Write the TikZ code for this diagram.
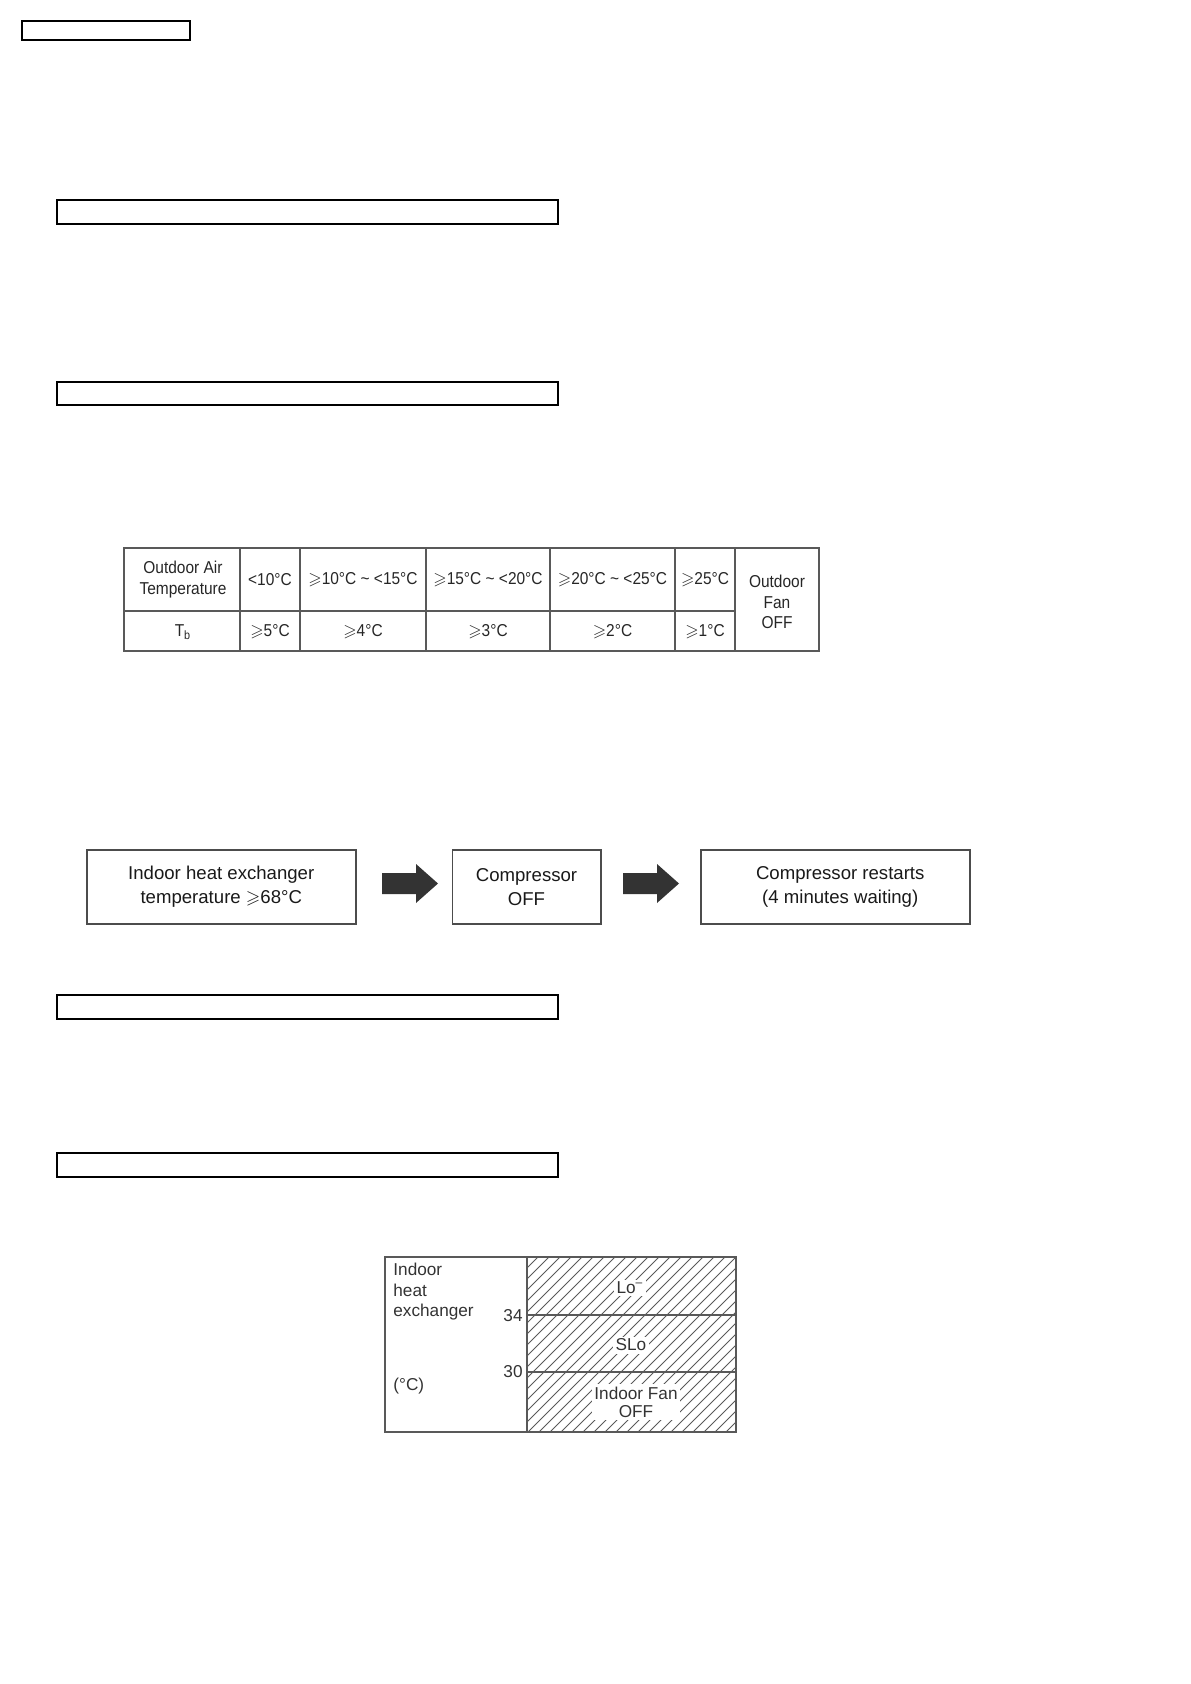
\documentclass[tikz,border=0pt]{standalone}
\usepackage{amssymb}
\usepackage{fontspec}
\setmainfont{Liberation Sans}
\newfontfamily\narrowfont{Liberation Sans}[FakeStretch=0.9]
\usetikzlibrary{calc}
\newcommand{\mygeq}{\ensuremath{\geqslant}}
\newcommand{\mytil}{\textasciitilde}
\begin{document}
\begin{tikzpicture}[x=0.5pt,y=-0.5pt,
  hdrbox/.style={draw=black,line width=1.2pt},
  tline/.style={draw=black!65,line width=0.75pt},
  ttext/.style={font=\narrowfont\fontsize{8.6}{10.2}\selectfont,align=center,text=black!85,inner sep=0pt},
  flowbox/.style={draw=black!70,line width=0.75pt,anchor=north west,inner sep=0pt,align=center,
     minimum height=37pt,font=\fontsize{9.3}{12}\selectfont,text=black!90},
  blockarrow/.style={fill=black!80},
  cline/.style={draw=black!65,line width=0.75pt},
  hatchline/.style={draw=black!65,line width=0.4pt},
  ctext/.style={font=\fontsize{8.6}{10.25}\selectfont,text=black!80,inner sep=0pt},
  clabel/.style={font=\fontsize{8.6}{9}\selectfont,text=black!80,fill=white,inner sep=1.2pt,align=center},
]
\useasboundingbox (0,0) rectangle (1190,1684);

% header boxes
\draw[draw=black,line width=1pt] (21.5,21.5) rectangle (190,40);
\draw[hdrbox] (57,200) rectangle (558,224);
\draw[hdrbox] (57,382) rectangle (558,405);
\draw[hdrbox] (57,995) rectangle (558,1019);
\draw[hdrbox] (57,1153) rectangle (558,1177);

% table
\draw[tline] (124,548) rectangle (819,651);
\draw[tline] (124,611) -- (735,611);
\foreach \xx in {240,300,426,550,675,735} \draw[tline] (\xx,548) -- (\xx,651);
\node[ttext] (h0) at (183,579.5) {Outdoor Air\\Temperature};
\node[ttext] (h1) at (270,579.5) {<10°C};
\node[ttext] (h2) at (363,579.5) {\mygeq10°C \mytil\ <15°C};
\node[ttext] (h3) at (488,579.5) {\mygeq15°C \mytil\ <20°C};
\node[ttext] (h4) at (612.5,579.5) {\mygeq20°C \mytil\ <25°C};
\node[ttext] (h5) at (705,579.5) {\mygeq25°C};
\node[ttext] (h6) at (777,602) {Outdoor\\Fan\\OFF};
\node[ttext] (r0) at (183,632) {T\textsubscript{b}};
\node[ttext] (r1) at (270,632) {\mygeq5°C};
\node[ttext] (r2) at (363,632) {\mygeq4°C};
\node[ttext] (r3) at (488,632) {\mygeq3°C};
\node[ttext] (r4) at (612.5,632) {\mygeq2°C};
\node[ttext] (r5) at (705,632) {\mygeq1°C};

% flow
\node[flowbox,minimum width=134.5pt] (b1) at (86,849) {Indoor heat exchanger\\temperature \mygeq68°C};
\node[flowbox,minimum width=74.25pt] (b2) at (451.5,849) {Compressor\\OFF};
\node[flowbox,minimum width=134.5pt] (b3) at (700,849) {\hspace*{5pt}Compressor restarts\\\hspace*{5pt}(4 minutes waiting)};
\fill[blockarrow] (382,873) -- (416,873) -- (416,864) -- (438,883.5) -- (416,903) -- (416,894) -- (382,894) -- cycle;
\fill[blockarrow] (623,873) -- (657,873) -- (657,864) -- (679,883.5) -- (657,903) -- (657,894) -- (623,894) -- cycle;

% chart
\begin{scope}
\clip (527,1257) rectangle (736,1432);
\foreach \k in {0,...,36} \draw[hatchline] ({352+11*\k},1432) -- ({527+11*\k},1257);
\end{scope}
\draw[cline] (385,1257) rectangle (736,1432);
\draw[cline] (527,1257) -- (527,1432);
\draw[cline] (527,1315) -- (736,1315);
\draw[cline] (527,1372) -- (736,1372);
\node[ctext,anchor=west,align=left] (cl) at (393,1292) {Indoor\\heat\\exchanger};
\node[ctext,anchor=west] (cu) at (393,1386) {(°C)};
\node[ctext,anchor=east] (t34) at (523,1316) {34};
\node[ctext,anchor=east] (t30) at (523,1372) {30};
\node[clabel] (lo) at (630,1288) {Lo\textsuperscript{\textendash}};
\node[clabel] (slo) at (631,1345) {SLo};
\node[clabel] (off) at (636,1402) {Indoor Fan\\OFF};
\end{tikzpicture}
\end{document}
